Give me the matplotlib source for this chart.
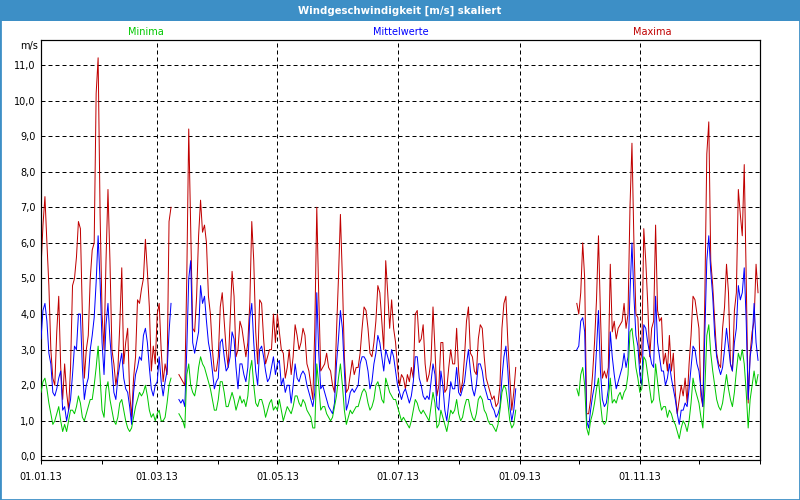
import matplotlib
matplotlib.use("Agg")
import matplotlib.pyplot as plt
import matplotlib.dates as mdates
from matplotlib.patches import Rectangle
import pandas as pd

nan = float("nan")

# ---------------- data (daily values, 2013) ----------------
start_date = "2013-01-01"
gap_days = 30  # no data from 31.08. to 29.09.

maxima_part1 = [
    5.3, 6.5, 7.3, 6.0, 4.8, 3.0, 2.2, 2.0, 3.5, 4.5,
    2.5, 1.6, 2.6, 1.8, 1.3, 2.5, 4.8, 5.0, 5.6, 6.6,
    6.4, 4.0, 2.2, 3.0, 3.4, 5.0, 5.8, 6.0, 10.2, 11.2,
    6.8, 4.0, 3.0, 5.5, 7.5, 5.5, 3.0, 2.6, 2.0, 2.4,
    3.7, 5.3, 2.6, 3.2, 3.6, 1.8, 1.1, 2.2, 2.8, 4.4,
    4.3, 4.7, 5.0, 6.1, 5.2, 4.2, 2.4, 3.1, 2.6, 4.0,
    4.3, 3.0, 2.1, 2.6, 2.3, 6.6, 7.0, nan, nan, nan,
    2.3, 2.2, 2.1, 2.0, 5.0, 9.2, 6.4, 3.6, 3.5, 4.5,
    6.2, 7.2, 6.3, 6.5, 6.0, 4.5, 4.0, 3.0, 2.4, 2.4,
    2.8, 4.2, 4.6, 3.8, 3.0, 2.5, 3.8, 5.2, 4.5, 2.8,
    3.0, 3.8, 3.6, 3.2, 2.8, 3.2, 4.3, 6.6, 5.5, 3.5,
    2.6, 4.4, 4.3, 3.3, 2.6, 2.8, 3.0, 3.0, 4.0, 3.2,
    4.0, 3.5, 3.0, 2.9, 2.2, 2.5, 3.0, 2.3, 2.8, 3.7,
    3.4, 3.0, 3.2, 3.6, 3.4, 2.6, 2.4, 2.0, 1.6, 3.6,
    7.0, 4.5, 2.4, 2.5, 2.6, 2.9, 2.5, 2.4, 2.0, 1.8,
    3.5, 5.0, 6.8, 5.0, 2.8, 1.8, 1.9, 2.3, 2.7, 2.3,
    2.5, 2.5, 2.9, 3.6, 4.2, 4.1, 3.6, 2.9, 2.8, 3.2,
    3.8, 4.8, 4.6, 3.8, 3.0, 5.5, 4.6, 3.6, 4.4, 3.6,
    3.2, 2.5, 2.0, 2.3, 2.2, 1.9, 2.3, 2.1, 2.5, 2.2,
    4.0, 4.1, 3.2, 3.3, 3.7, 2.6, 2.1, 2.3, 2.7, 4.2,
    3.0, 1.7, 2.0, 3.2, 3.2, 1.8, 1.9, 2.5, 3.0, 2.6,
    2.6, 3.6, 2.4, 1.8, 2.1, 2.8, 3.8, 4.2, 2.9, 2.8,
    2.4, 2.3, 3.3, 3.7, 3.6, 2.8, 2.2, 2.0, 1.8, 1.6,
    1.7, 1.4, 1.5, 2.0, 3.6, 4.3, 4.5, 3.2, 2.2, 1.3,
    1.8, 2.5,
]
maxima_part2 = [
    4.3, 4.0, 4.6, 6.0, 5.0, 1.2, 1.2, 1.6,
    2.3, 3.2, 4.4, 6.2, 4.0, 2.2, 2.4, 2.2, 2.5, 5.4,
    3.5, 3.8, 3.3, 3.6, 3.7, 3.8, 4.3, 3.6, 4.0, 7.0,
    8.8, 6.0, 4.0, 3.9, 2.6, 2.9, 6.4, 5.5, 4.3, 2.8,
    3.6, 3.8, 6.5, 4.1, 3.8, 3.9, 2.6, 2.9, 2.4, 3.4,
    2.4, 2.9, 1.8, 1.2, 1.6, 2.0, 1.7, 2.2, 1.5, 2.6,
    3.4, 4.5, 4.4, 4.0, 3.6, 1.7, 1.4, 4.5, 8.5, 9.4,
    5.5, 4.8, 3.8, 2.9, 2.6, 2.5, 3.6, 4.2, 5.4, 4.6,
    2.6, 2.4, 4.1, 4.6, 7.5, 6.8, 6.2, 8.2, 5.0, 1.5,
    2.9, 3.5, 3.8, 5.4, 4.6,
]

mittel_part1 = [
    3.3, 4.1, 4.3, 3.8, 2.9, 2.6, 1.8, 1.7, 1.9, 2.2,
    2.4, 1.3, 1.4, 1.0, 1.3, 1.6, 2.3, 3.1, 3.0, 4.0,
    4.0, 2.5, 1.6, 2.0, 2.2, 3.0, 3.4, 3.9, 4.9, 6.2,
    4.9, 3.2, 2.3, 3.7, 4.3, 3.3, 2.6, 1.8, 1.6, 2.2,
    2.6, 2.9, 2.2, 1.9, 1.8, 1.4, 0.9, 1.8, 2.3, 2.5,
    2.8, 2.7, 3.4, 3.6, 3.2, 2.5, 1.9, 1.7, 2.0, 2.1,
    2.8, 2.1, 1.7, 2.1, 2.4, 3.5, 4.3, nan, nan, nan,
    1.6, 1.5, 1.6, 1.4, 3.0, 5.0, 5.5, 3.2, 2.9, 3.2,
    3.5, 4.8, 4.3, 4.5, 3.8, 3.2, 2.9, 2.4, 1.9, 2.1,
    2.2, 3.2, 3.3, 2.8, 2.4, 2.5, 2.8, 3.5, 3.3, 2.5,
    1.9, 2.6, 2.6, 2.3, 2.1, 2.5, 3.9, 4.3, 3.2, 2.4,
    2.0, 3.0, 3.1, 2.8, 2.4, 2.1, 2.2, 2.5, 2.8, 2.3,
    2.6, 2.7, 2.0, 2.2, 1.8, 2.0, 2.0, 1.5, 2.0, 2.6,
    2.2, 2.1, 2.3, 2.4, 2.3, 2.0, 1.8, 1.6, 1.4, 1.8,
    4.6, 2.9, 1.9, 2.0, 1.8, 1.6, 1.4, 1.3, 1.2, 1.5,
    2.6, 3.3, 4.1, 3.6, 2.4, 1.3, 1.5, 1.8, 1.9, 1.8,
    1.9, 2.0, 2.6, 2.8, 2.8, 2.7, 2.4, 1.9, 2.1, 2.6,
    2.9, 3.4, 3.2, 2.8, 2.4, 3.0, 2.8, 2.6, 3.0, 2.8,
    2.4, 2.0, 1.8, 1.6, 1.8, 1.9, 1.7, 1.5, 1.7, 2.1,
    2.8, 2.8, 2.2, 2.0, 1.7, 1.6, 1.7, 1.6, 2.1, 2.6,
    2.3, 1.4, 1.3, 2.4, 2.0, 1.3, 1.0, 1.5, 2.1, 1.9,
    1.9, 2.5, 1.8, 1.7, 1.9, 2.1, 2.6, 3.0, 2.4, 1.9,
    1.7, 2.0, 2.6, 2.6, 2.4, 2.0, 1.8, 1.6, 1.6, 1.4,
    1.3, 1.1, 1.2, 1.4, 2.2, 2.8, 3.1, 2.4, 1.4, 1.0,
    1.3, 1.9,
]
mittel_part2 = [
    3.0, 3.1, 3.8, 3.9, 3.5, 1.0, 0.8, 1.3,
    1.7, 2.0, 3.0, 4.1, 2.4, 1.6, 1.4, 1.5, 1.9, 3.5,
    2.8, 2.3, 1.9, 2.1, 2.3, 2.5, 2.9, 2.5, 2.8, 4.6,
    6.0, 4.5, 3.4, 3.1, 2.3, 2.0, 3.7, 3.6, 3.2, 2.9,
    2.6, 2.5, 4.5, 3.2, 2.8, 2.4, 2.4, 2.0, 2.2, 2.6,
    2.2, 1.9, 1.6, 1.2, 0.9, 1.3, 1.3, 1.5, 1.4, 1.9,
    2.5, 3.1, 3.0, 2.6, 2.4, 1.9, 1.4, 3.5, 5.5, 6.2,
    5.2, 4.5, 3.4, 2.8, 2.5, 2.3, 2.5, 3.0, 3.6, 3.1,
    2.6, 2.4, 3.2, 3.6, 4.8, 4.4, 4.6, 5.3, 3.8, 1.6,
    2.8, 3.2, 4.3, 3.2, 2.7,
]

minima_part1 = [
    1.8, 2.1, 2.2, 1.9, 1.5, 1.2, 0.9, 1.0, 1.2, 1.4,
    1.0, 0.7, 0.9, 0.7, 1.0, 1.3, 1.3, 1.2, 1.4, 1.7,
    1.5, 1.1, 1.0, 1.2, 1.4, 1.6, 1.6, 2.0, 2.5, 3.1,
    2.2, 1.3, 1.1, 1.9, 2.1, 1.6, 1.3, 1.0, 0.9, 1.1,
    1.5, 1.6, 1.3, 1.0, 0.8, 0.7, 0.8, 1.1, 1.4, 1.6,
    1.8, 1.7, 1.8, 2.0, 1.7, 1.3, 1.1, 1.2, 1.0, 1.2,
    1.3, 1.0, 1.0, 1.1, 1.5, 2.0, 2.2, nan, nan, nan,
    1.2, 1.1, 1.0, 0.8, 2.3, 2.6, 2.0, 1.8, 1.7, 2.0,
    2.5, 2.8, 2.6, 2.5, 2.3, 2.1, 1.9, 1.6, 1.3, 1.3,
    1.6, 2.1, 2.1, 1.8, 1.4, 1.4, 1.6, 1.8, 1.6, 1.3,
    1.5, 1.7, 1.5, 1.6, 1.4, 1.7, 2.4, 2.7, 2.0, 1.5,
    1.4, 1.6, 1.6, 1.4, 1.1, 1.3, 1.5, 1.6, 1.3, 1.4,
    1.3, 1.6, 1.3, 1.0, 1.2, 1.4, 1.3, 1.2, 1.4, 1.7,
    1.7, 1.5, 1.4, 1.6, 1.5, 1.3, 1.2, 1.1, 0.8, 0.8,
    2.6, 2.0, 1.3, 1.4, 1.4, 1.2, 1.1, 1.0, 1.1, 1.4,
    1.7, 2.2, 2.6, 2.0, 1.3, 0.9, 1.1, 1.3, 1.2, 1.3,
    1.4, 1.4, 1.6, 1.8, 1.9, 1.8, 1.5, 1.3, 1.4, 1.6,
    2.0, 2.1, 1.9, 1.6, 1.5, 2.2, 2.0, 1.8, 1.7, 1.6,
    1.6, 1.4, 1.2, 1.0, 1.1, 1.0, 0.9, 0.8, 1.0, 1.3,
    1.6, 1.5, 1.3, 1.2, 1.3, 1.2, 1.1, 1.0, 1.4, 1.8,
    1.5, 0.8, 0.9, 1.3, 1.1, 0.9, 0.7, 1.0, 1.3, 1.2,
    1.3, 1.6, 1.2, 1.0, 1.1, 1.4, 1.6, 1.6, 1.3, 1.1,
    1.0, 1.2, 1.6, 1.7, 1.6, 1.3, 1.2, 1.0, 0.9, 0.9,
    0.8, 0.7, 0.9, 1.3, 1.8, 2.0, 1.9, 1.5, 1.0, 0.8,
    0.9, 1.3,
]
minima_part2 = [
    1.9, 1.7, 2.3, 2.5, 2.0, 0.8, 0.6, 1.0,
    1.2, 1.5, 1.9, 2.2, 1.5, 1.0, 0.9, 1.0, 1.6, 2.2,
    1.5, 1.6, 1.5, 1.7, 1.8, 1.6, 1.8, 1.9, 2.3, 3.5,
    3.6, 3.1, 2.5, 2.2, 1.8, 1.9, 2.8, 2.7, 2.3, 1.9,
    1.5, 1.6, 2.6, 2.1, 1.6, 1.3, 1.4, 1.4, 1.1, 1.3,
    1.2, 1.0, 0.9, 0.7, 0.5, 0.8, 1.0, 0.9, 0.7, 1.0,
    1.5, 2.2, 1.9, 1.7, 1.5, 1.1, 0.8, 1.9, 3.4, 3.7,
    2.9, 2.4, 2.0, 1.6, 1.4, 1.3, 1.5, 1.9, 2.3, 1.9,
    1.6, 1.4, 1.8, 2.4, 2.9, 2.7, 3.0, 2.6, 1.8, 0.8,
    1.6, 2.0, 2.4, 2.0, 2.3,
]

series_names = ["Minima", "Mittelwerte", "Maxima"]
title_text = "Windgeschwindigkeit [m/s] skaliert"
y_unit = "m/s"
y_ticks = list(range(0, 12))
y_tick_labels = ["%d,0" % v for v in y_ticks]
x_tick_dates = ["2013-01-01", "2013-03-01", "2013-05-01",
                "2013-07-01", "2013-09-01", "2013-11-01"]
x_tick_labels = ["01.01.13", "01.03.13", "01.05.13",
                 "01.07.13", "01.09.13", "01.11.13"]

# ---------------- assemble ----------------
minima = minima_part1 + [nan] * gap_days + minima_part2
mittel = mittel_part1 + [nan] * gap_days + mittel_part2
maxima = maxima_part1 + [nan] * gap_days + maxima_part2
n = len(maxima)
dates = pd.date_range(start_date, periods=n, freq="D")

col_min = "#00c800"
col_mid = "#0000ff"
col_max = "#c00000"
bar_col = "#3d8fc6"
px = 0.72  # one pixel in points at 100 dpi

plt.rcParams["font.family"] = ["DejaVu Sans"]

fig = plt.figure(figsize=(8, 5), dpi=100, facecolor="white")
ax = fig.add_axes([41 / 800, 40 / 500, 719 / 800, 420 / 500])

ax.plot(dates[:len(maxima)], maxima, color=col_max, lw=px, zorder=2)
ax.plot(dates[:len(mittel)], mittel, color=col_mid, lw=px, zorder=3)
ax.plot(dates[:len(minima)], minima, color=col_min, lw=px, zorder=4)

ax.set_xlim(pd.Timestamp("2013-01-01"), pd.Timestamp("2014-01-01"))
ax.set_ylim(-0.1, 11.7)

ax.set_yticks(y_ticks)
ax.set_yticklabels(y_tick_labels)
ax.set_xticks([pd.Timestamp(d) for d in x_tick_dates])
ax.set_xticklabels(x_tick_labels)
ax.xaxis.set_minor_locator(mdates.MonthLocator())

ax.tick_params(axis="y", length=0, pad=4, labelsize=7)
ax.tick_params(axis="x", which="both", direction="out", length=3,
               width=px, pad=6, labelsize=7)

ax.grid(True, which="major", color="black", linestyle=(0, (4, 3)),
        linewidth=px, zorder=1)
for s in ax.spines.values():
    s.set_color("black")
    s.set_linewidth(px * 1.2)

# title bar and frame
fig.add_artist(Rectangle((0, 1 - 21 / 500), 1, 21 / 500,
                         transform=fig.transFigure, facecolor=bar_col,
                         edgecolor="none", zorder=0))
fig.add_artist(Rectangle((0, 0), 1, 1, transform=fig.transFigure,
                         fill=False, edgecolor=bar_col, lw=2.0, zorder=5))
fig.text(0.5, 1 - 10.5 / 500, title_text, ha="center", va="center",
         color="white", fontweight="bold", fontsize=7.3)

# legend-like captions
for name, col, xc in zip(series_names, [col_min, col_mid, col_max],
                         [146, 401, 652]):
    fig.text(xc / 800, 1 - 32 / 500, name, ha="center", va="center",
             color=col, fontsize=7)
fig.text(29 / 800, 1 - 46 / 500, y_unit, ha="center", va="center",
         color="black", fontsize=7)

fig.savefig("out.png", dpi=100, facecolor="white")
